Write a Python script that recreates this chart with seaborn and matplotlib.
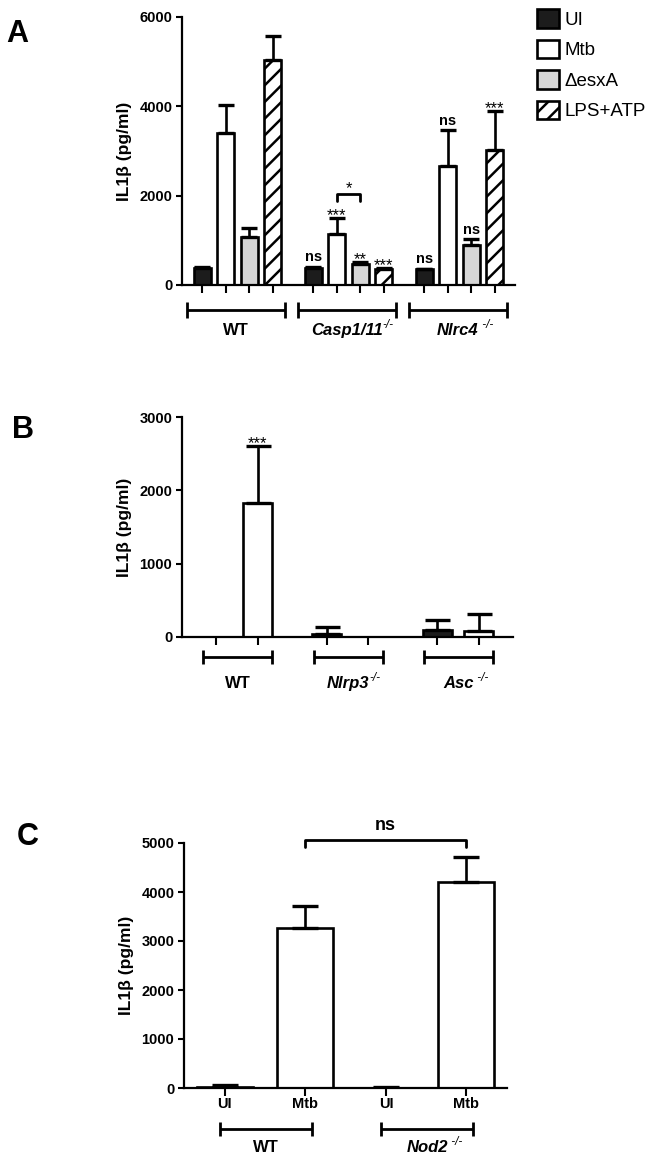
import matplotlib
matplotlib.use("Agg")
import matplotlib.pyplot as plt
from matplotlib.transforms import blended_transform_factory
import pandas as pd
import seaborn as sns

# ---- panel A: IL1b by genotype and stimulus ----
a_groups = ["WT", "Casp1/11", "Nlrc4"]
a_treatments = ["UI", "Mtb", "\u0394esxA", "LPS+ATP"]
a_ui = [380, 370, 350]
a_mtb = [3400, 1140, 2660]
a_esxa = [1070, 480, 890]
a_lps = [5040, 360, 3030]
a_ui_err = [20, 30, 10]
a_mtb_err = [620, 350, 800]
a_esxa_err = [200, 30, 130]
a_lps_err = [530, 10, 870]
a_marks = [["", "", "", ""], ["ns", "***", "**", "***"], ["ns", "ns", "ns", "***"]]

# ---- panel B ----
b_groups = ["WT", "Nlrp3", "Asc"]
b_treatments = ["UI", "Mtb"]
b_ui = [0, 40, 90]
b_mtb = [1830, 0, 85]
b_ui_err = [0, 95, 140]
b_mtb_err = [775, 0, 230]
b_marks = [["", "***"], ["", ""], ["", ""]]

# ---- panel C ----
c_groups = ["WT", "Nod2"]
c_treatments = ["UI", "Mtb"]
c_ui = [30, 10]
c_mtb = [3270, 4210]
c_ui_err = [25, 5]
c_mtb_err = [440, 510]

group_sups = {"Casp1/11": "-/-", "Nlrc4": " -/-", "Nlrp3": "-/-", "Asc": " -/-", "Nod2": " -/-"}
italic_groups = {"Casp1/11", "Nlrc4", "Nlrp3", "Asc", "Nod2"}


def make_frame(groups, treatments, values):
    rows = []
    for t, vals in zip(treatments, values):
        for g, v in zip(groups, vals):
            rows.append({"group": g, "treatment": t, "value": v})
    return pd.DataFrame(rows)


def draw_bars(ax, df, groups, treatments, colors, width, gap, errs, capsize):
    sns.barplot(
        data=df, x="group", y="value", hue="treatment",
        order=groups, hue_order=treatments, palette=colors,
        width=width, gap=gap, edgecolor="black", linewidth=1.9,
        errorbar=None, legend=False, saturation=1, ax=ax,
    )
    bars = list(ax.containers)
    for cont, err in zip(bars, errs):
        xs, ys, es = [], [], []
        for p, e in zip(cont, err):
            if e > 0:
                xs.append(p.get_x() + p.get_width() / 2)
                ys.append(p.get_height())
                es.append(e)
        ax.errorbar(xs, ys, yerr=[[0] * len(es), es], fmt="none", ecolor="black",
                    elinewidth=1.9, capsize=capsize, capthick=2.4, zorder=3)
    return bars


def style_axes(ax, ylim, yticks, bars, xlabels=None):
    sns.despine(ax=ax)
    for s in ["left", "bottom"]:
        ax.spines[s].set_linewidth(1.6)
    ax.set_ylim(*ylim)
    ax.set_yticks(yticks)
    ax.set_xlim(-0.5, len(bars[0]) - 0.5)
    centers = sorted(p.get_x() + p.get_width() / 2 for c in bars for p in c)
    ax.set_xticks(centers)
    ax.set_xticklabels(xlabels if xlabels else [""] * len(centers))
    ax.tick_params(axis="y", direction="out", length=4.5, width=1.5, pad=2.5, labelsize=10.5)
    ax.tick_params(axis="x", direction="out", length=5.5, width=1.5, pad=1, labelsize=10.5)
    ax.set_xlabel("")
    ax.set_ylabel("IL1\u03b2 (pg/ml)", fontsize=12.5, fontweight="bold", labelpad=5)


def group_brackets(ax, bars, groups, lo, hi, y_br, y_txt, tick=0.03):
    trans = blended_transform_factory(ax.transData, ax.transAxes)
    for i, g in enumerate(groups):
        xs = [c[i].get_x() + c[i].get_width() / 2 for c in bars]
        x0, x1 = min(xs) - lo, max(xs) + hi
        kw = dict(transform=trans, clip_on=False, color="black", lw=2.0, solid_capstyle="butt")
        ax.plot([x0, x1], [y_br, y_br], **kw)
        ax.plot([x0, x0], [y_br - tick, y_br + tick], **kw)
        ax.plot([x1, x1], [y_br - tick, y_br + tick], **kw)
        t = ax.text((x0 + x1) / 2, y_txt, g, transform=trans, ha="center", va="baseline",
                    fontsize=12, fontweight="bold",
                    fontstyle="italic" if g in italic_groups else "normal")
        if g in group_sups:
            ax.annotate(group_sups[g], xy=(1, 1), xycoords=t, xytext=(0, -1.5),
                        textcoords="offset points", ha="left", va="center",
                        fontsize=8.5, fontstyle="italic", fontweight="normal")


def mark_bars(ax, bars, errs, marks):
    for j, (cont, err) in enumerate(zip(bars, errs)):
        for i, (p, e) in enumerate(zip(cont, err)):
            m = marks[i][j]
            if not m:
                continue
            x = p.get_x() + p.get_width() / 2
            top = p.get_height() + e
            if m == "ns":
                ax.annotate(m, (x, top), xytext=(0, 2), textcoords="offset points",
                            ha="center", va="bottom", fontsize=10.5, fontweight="bold")
            else:
                ax.annotate(m, (x, top), xytext=(0, -3.5), textcoords="offset points",
                            ha="center", va="bottom", fontsize=12, fontweight="normal")


sns.set_theme(style="ticks")
plt.rcParams["font.family"] = ["Liberation Sans", "DejaVu Sans"]
plt.rcParams["font.weight"] = "bold"
plt.rcParams["hatch.linewidth"] = 1.8
plt.rcParams["axes.edgecolor"] = "black"
plt.rcParams["xtick.color"] = "black"
plt.rcParams["ytick.color"] = "black"
plt.rcParams["text.color"] = "black"
plt.rcParams["axes.labelcolor"] = "black"

W, H = 652, 1163
fig = plt.figure(figsize=(W / 100, H / 100), dpi=100)

# panel A
axA = fig.add_axes([182 / W, 1 - 285 / H, 333 / W, 268 / H])
dfA = make_frame(a_groups, a_treatments, [a_ui, a_mtb, a_esxa, a_lps])
colorsA = ["#1c1c1c", "white", "#d6d6d6", "white"]
errsA = [a_ui_err, a_mtb_err, a_esxa_err, a_lps_err]
barsA = draw_bars(axA, dfA, a_groups, a_treatments, colorsA, 0.85, 0.28, errsA, 5.5)
for p in barsA[3]:
    p.set_hatch("//")
style_axes(axA, (0, 6000), [0, 2000, 4000, 6000], barsA)
group_brackets(axA, barsA, a_groups, 0.14, 0.11, -0.093, -0.187)
mark_bars(axA, barsA, errsA, a_marks)
# Casp1/11 Mtb vs dEsxA comparison
xm = barsA[1][1].get_x() + barsA[1][1].get_width() / 2
xe = barsA[2][1].get_x() + barsA[2][1].get_width() / 2
axA.plot([xm, xm, xe, xe], [1870, 2030, 2030, 1870], color="black", lw=2.0)
axA.text((xm + xe) / 2, 2000, "*", ha="center", va="bottom", fontsize=12, fontweight="normal")
fig.legend(handles=barsA, labels=a_treatments, loc="upper left",
           bbox_to_anchor=(537 / W, 1 - 9 / H), frameon=False,
           handlelength=1.15, handleheight=1.15, handletextpad=0.3,
           labelspacing=0.58, borderpad=0, borderaxespad=0,
           prop={"size": 13.5, "weight": "normal"})

# panel B
axB = fig.add_axes([182 / W, 1 - 637 / H, 331 / W, 220 / H])
dfB = make_frame(b_groups, b_treatments, [b_ui, b_mtb])
errsB = [b_ui_err, b_mtb_err]
barsB = draw_bars(axB, dfB, b_groups, b_treatments, ["#1c1c1c", "white"], 0.75, 0.3, errsB, 9)
style_axes(axB, (0, 3000), [0, 1000, 2000, 3000], barsB)
group_brackets(axB, barsB, b_groups, 0.12, 0.13, -0.091, -0.232)
mark_bars(axB, barsB, errsB, b_marks)

# panel C
axC = fig.add_axes([184 / W, 1 - 1088 / H, 323 / W, 245 / H])
dfC = make_frame(c_groups, c_treatments, [c_ui, c_mtb])
errsC = [c_ui_err, c_mtb_err]
barsC = draw_bars(axC, dfC, c_groups, c_treatments, ["white", "white"], 0.99, 0.3, errsC, 9.5)
style_axes(axC, (0, 5000), [0, 1000, 2000, 3000, 4000, 5000], barsC,
           xlabels=["UI", "Mtb", "UI", "Mtb"])
group_brackets(axC, barsC, c_groups, 0.03, 0.045, -0.167, -0.261)
x1 = barsC[1][0].get_x() + barsC[1][0].get_width() / 2
x2 = barsC[1][1].get_x() + barsC[1][1].get_width() / 2
axC.plot([x1, x1, x2, x2], [4920, 5060, 5060, 4920], color="black", lw=2.0, clip_on=False)
axC.text((x1 + x2) / 2, 5180, "ns", ha="center", va="bottom", fontsize=13, fontweight="bold")

# panel letters
for letter, x, y in [("A", 6, 42), ("B", 12, 438), ("C", 17, 845)]:
    fig.text(x / W, 1 - y / H, letter, fontsize=22, fontweight="bold", va="baseline")

fig.savefig("out.png", dpi=100)
